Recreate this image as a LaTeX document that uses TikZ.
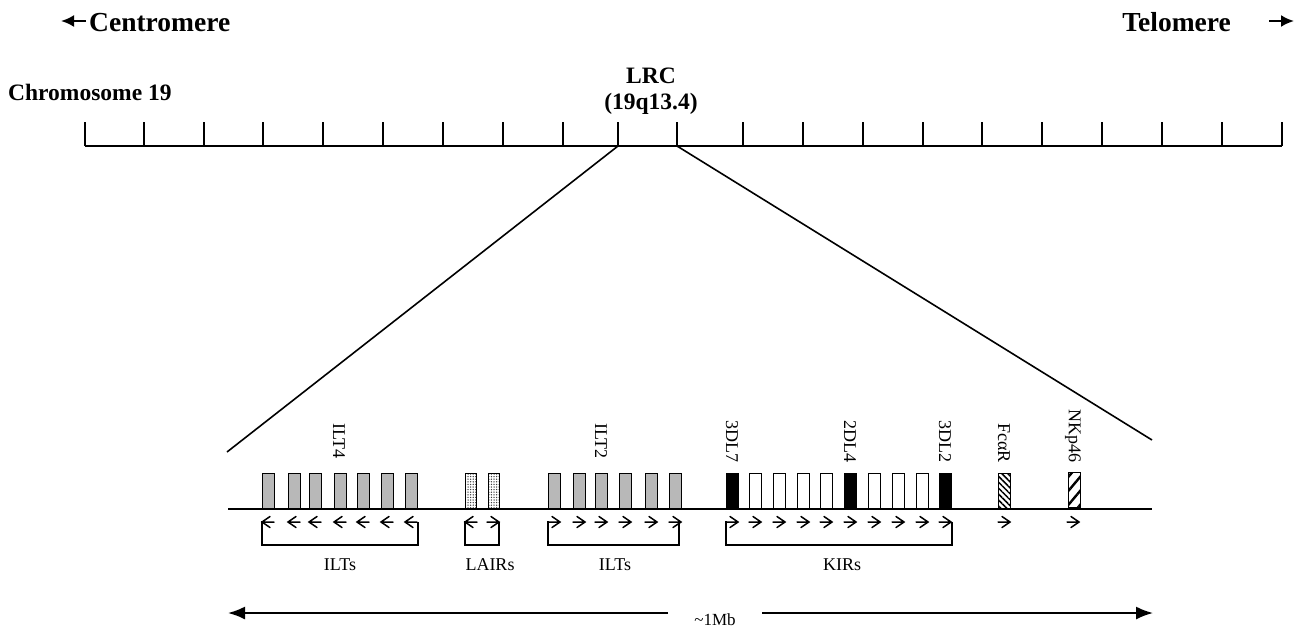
\documentclass[tikz,border=0pt]{standalone}
\usepackage{fontspec}
\setmainfont{Liberation Serif}
\usetikzlibrary{patterns.meta,arrows.meta}
\definecolor{ggray}{RGB}{184,184,184}
\begin{document}
\begin{tikzpicture}[x=1pt,y=-1pt,
  line cap=butt,
  gene/.style={draw,line width=1.2pt,minimum width=12pt,minimum height=35pt,inner sep=0pt,anchor=south west},
  ilt/.style={gene,fill=ggray},
  lair/.style={gene,minimum width=11pt,pattern={Dots[distance=2.6pt,radius=0.75pt]},pattern color=black!75},
  kirw/.style={gene,fill=white},
  kirb/.style={gene,fill=black},
  fca/.style={gene,pattern={Lines[angle=-45,distance=4.2pt,line width=1.5pt]}},
  nkp/.style={gene,pattern={Lines[angle=50,distance=9pt,line width=2.4pt]}},
  chevpic/.pic={\draw[line width=1.5pt,line join=miter,line cap=round] (-12,0) -- (0,0) (-8,-5.5) -- (0,0) -- (-8,5.5);},
  brk/.style={line width=1.4pt},
  glabel/.style={rotate=-90,anchor=east,inner sep=0pt,font=\fontsize{18}{18}\selectfont},
  blabel/.style={anchor=base,inner sep=0pt,font=\fontsize{18}{18}\selectfont},
  bigbold/.style={inner sep=0pt,font=\fontsize{27.5}{30}\selectfont\bfseries},
  midbold/.style={inner sep=0pt,font=\fontsize{23.5}{26}\selectfont\bfseries},
  dirarrow/.style={line width=2.2pt,-{Latex[length=13pt,width=12pt]}},
  span/.style={line width=1.8pt,-{Latex[length=17pt,width=13pt]}}
]
\useasboundingbox (0,0) rectangle (1300,630);

% top labels
\node[bigbold,anchor=base west] (cen) at (89,31) {Centromere};
\coordinate (cenA) at (86,21);
\coordinate (cenB) at (61,21);
\draw[dirarrow] (cenA) -- (cenB);
\node[bigbold,anchor=base east] (tel) at (1231,31) {Telomere};
\coordinate (telA) at (1269,21);
\coordinate (telB) at (1294,21);
\draw[dirarrow] (telA) -- (telB);

\node[midbold,anchor=base west] (chr) at (8,100) {Chromosome 19};
\node[midbold,anchor=base] (lrc) at (651,83) {LRC};
\node[midbold,anchor=base] (lrcb) at (651,109) {(19q13.4)};

% chromosome ruler
\coordinate (chL) at (85,146);
\coordinate (chR) at (1282,146);
\draw[line width=1.8pt] (chL) -- (chR);
\foreach \t in {85,144,204,263,323,383,443,503,563,618,677,743,803,863,923,982,1042,1102,1162,1222,1282}
  \draw[line width=1.6pt] (\t,146) -- (\t,122);
\coordinate (lrcL) at (618,146);
\coordinate (lrcR) at (677,146);

% gene line
\coordinate (gL) at (228,509);
\coordinate (gR) at (1152,509);
\coordinate (zL) at (227,452);
\coordinate (zR) at (1152,440);
\draw[line width=1.6pt] (lrcL) -- (zL);
\draw[line width=1.6pt] (lrcR) -- (zR);
\draw[line width=2pt] (gL) -- (gR);

% ILT4 cluster
\foreach \x [count=\i] in {262,288,309,334,357,381,405} {
  \node[ilt] (a\i) at (\x,509) {};
  \pic[xscale=-1] at (\x,522) {chevpic};
}
% LAIRs
\node[lair] (l1) at (465,509) {};
\node[lair] (l2) at (488,509) {};
\pic[xscale=-1] at (465,522) {chevpic};
\pic at (499,522) {chevpic};
% ILT2 cluster
\foreach \x [count=\i] in {548,573,595,619,645,669} {
  \node[ilt] (b\i) at (\x,509) {};
  \pic at (\x+12,522) {chevpic};
}
% KIRs
\foreach \x/\s [count=\i] in {726/kirb,749/kirw,773/kirw,797/kirw,820/kirw,844/kirb,868/kirw,892/kirw,916/kirw,939/kirb} {
  \node[\s] (k\i) at (\x,509) {};
  \pic at (\x+12,522) {chevpic};
}
% FcaR, NKp46
\node[fca] (f1) at (998,509) {};
\pic at (1010,522) {chevpic};
\node[nkp] (n1) at (1067,509) {};
\pic at (1079,522) {chevpic};

% brackets
\draw[brk] (262,521) -- (262,545) -- (418,545) -- (418,522);
\draw[brk] (465,521) -- (465,545) -- (499,545) -- (499,522);
\draw[brk] (548,521) -- (548,545) -- (679,545) -- (679,522);
\draw[brk] (726,521) -- (726,545) -- (952,545) -- (952,522);

% bracket labels
\node[blabel] (t1) at (340,570) {ILTs};
\node[blabel] (t2) at (490,570) {LAIRs};
\node[blabel] (t3) at (615,570) {ILTs};
\node[blabel] (t4) at (842,570) {KIRs};

% gene labels
\node[glabel] (g1) at (339,459) {ILT4};
\node[glabel] (g2) at (601,459) {ILT2};
\node[glabel] (g3) at (732,463) {3DL7};
\node[glabel] (g4) at (850,463) {2DL4};
\node[glabel] (g5) at (945,463) {3DL2};
\node[glabel] (g6) at (1004,463) {FcαR};
\node[glabel] (g7) at (1073,463) {NKp46};

% span arrow
\node[blabel,font=\fontsize{17}{17}\selectfont] (mb) at (715,625) {\textasciitilde1Mb};
\coordinate (spL) at (228,613);
\coordinate (spR) at (1153,613);
\coordinate (spLa) at (668,613);
\coordinate (spRa) at (762,613);
\draw[span] (spLa) -- (spL);
\draw[span] (spRa) -- (spR);
\end{tikzpicture}
\end{document}
